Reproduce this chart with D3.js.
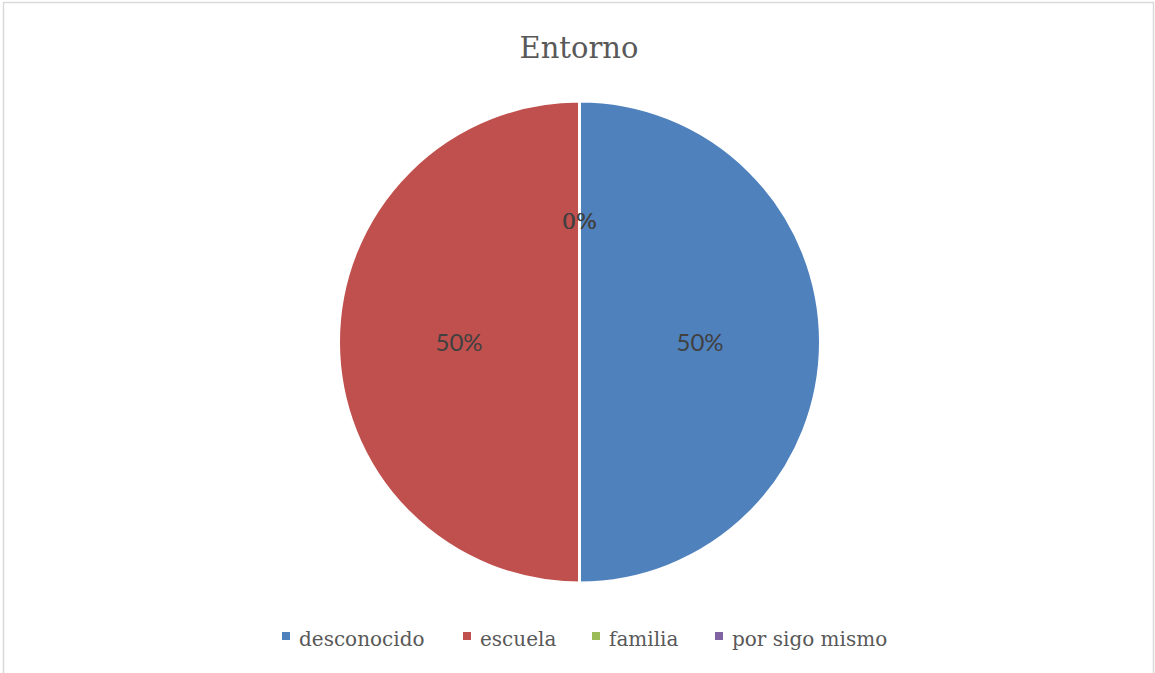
<!DOCTYPE html>
<html>
<head>
<meta charset="utf-8">
<script src="https://cdn.jsdelivr.net/npm/d3@7"></script>
<style>
  body { margin: 0; background: #fff; }
  svg { display: block; }
</style>
</head>
<body>
<svg id="chart" width="1155" height="673"></svg>
<script>
let categories = ["desconocido", "escuela", "familia", "por sigo mismo"];
let values = [50, 50, 0, 0];
let colors = ["#4F81BD", "#C0504D", "#9BBB59", "#8064A2"];
let title = "Entorno";

let svg = d3.select("#chart");

// chart frame
svg.append("rect")
    .attr("x", 3.5).attr("y", 2.5)
    .attr("width", 1150).attr("height", 690)
    .attr("fill", "white")
    .attr("stroke", "#d9d9d9")
    .attr("stroke-width", 1.5);

svg.append("text")
    .attr("x", 579).attr("y", 58)
    .attr("text-anchor", "middle")
    .attr("font-family", "DejaVu Serif")
    .attr("font-size", 29)
    .attr("fill", "#595959")
    .text(title);

let data = categories.map((c, i) => ({name: c, value: values[i], color: colors[i]}));
let total = d3.sum(values);

let cx = 579.5, cy = 342, r = 241;
let pie = d3.pie().sort(null).value(d => d.value);
let arc = d3.arc().innerRadius(0).outerRadius(r);
let labelArc = d3.arc().innerRadius(r * 0.5).outerRadius(r * 0.5);

let g = svg.append("g").attr("transform", `translate(${cx},${cy})`);
let arcs = pie(data);

g.selectAll("path")
    .data(arcs)
    .enter().append("path")
    .attr("d", arc)
    .attr("fill", d => d.data.color)
    .attr("stroke", "white")
    .attr("stroke-width", 3);

g.selectAll("text")
    .data(arcs)
    .enter().append("text")
    .attr("transform", d => `translate(${labelArc.centroid(d)})`)
    .attr("text-anchor", "middle")
    .attr("dy", "0.36em")
    .attr("font-family", d => d.data.value > 0 ? "Lato" : "DejaVu Serif")
    .attr("font-size", d => d.data.value > 0 ? 24 : 22)
    .attr("fill", "#404040")
    .text(d => Math.round(d.data.value / total * 100) + "%");

// legend
let legendX = [282, 463, 592, 715];
let legend = svg.append("g");
let items = legend.selectAll("g")
    .data(data)
    .enter().append("g")
    .attr("transform", (d, i) => `translate(${legendX[i]},632)`);
items.append("rect")
    .attr("width", 8).attr("height", 8)
    .attr("fill", d => d.color);
items.append("text")
    .attr("x", 17).attr("y", 14)
    .attr("font-family", "DejaVu Serif")
    .attr("font-size", 20)
    .attr("fill", "#595959")
    .text(d => d.name);
</script>
</body>
</html>
